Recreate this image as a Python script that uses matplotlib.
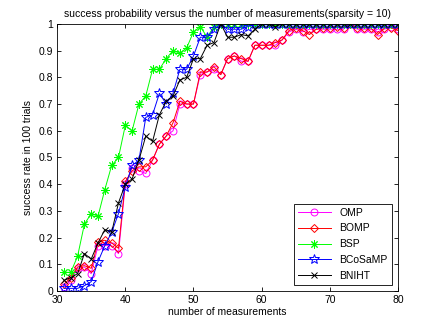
import numpy as np
import matplotlib
matplotlib.use('Agg')
import matplotlib.pyplot as plt

plt.rcParams['font.family'] = ['Liberation Sans', 'DejaVu Sans']

# numero de medidas
m = list(range(31, 81))

omp = [0.015, 0.04, 0.085, 0.09, 0.065, 0.17, 0.17, 0.17, 0.14, 0.40,
       0.46, 0.45, 0.44, 0.49, 0.55, 0.58, 0.60, 0.70, 0.70, 0.70,
       0.81, 0.82, 0.83, 0.81, 0.87, 0.88, 0.86, 0.86, 0.92, 0.92,
       0.92, 0.92, 0.94, 0.97, 0.98, 0.97, 0.98, 0.98, 0.98, 0.98,
       0.98, 0.98, 1.00, 0.98, 0.98, 0.98, 0.97, 0.98, 0.99, 0.98]
bomp = [0.025, 0.05, 0.09, 0.095, 0.085, 0.185, 0.19, 0.18, 0.16, 0.41,
        0.45, 0.465, 0.465, 0.49, 0.55, 0.58, 0.63, 0.71, 0.70, 0.70,
        0.82, 0.82, 0.84, 0.81, 0.87, 0.88, 0.87, 0.86, 0.92, 0.92,
        0.92, 0.93, 0.94, 0.975, 0.985, 0.975, 0.96, 0.98, 0.985, 0.985,
        0.99, 0.985, 1.00, 0.985, 0.985, 0.985, 0.96, 0.985, 0.985, 0.975]
bsp = [0.07, 0.07, 0.13, 0.25, 0.29, 0.28, 0.38, 0.47, 0.50, 0.62,
       0.60, 0.70, 0.73, 0.83, 0.83, 0.87, 0.90, 0.89, 0.91, 0.97,
       0.99, 0.95, 0.99, 1, 1, 1, 1, 1, 1, 1,
       1, 1, 1, 1, 1, 1, 1, 1, 1, 1,
       1, 1, 1, 1, 1, 1, 1, 1, 1, 1]
bcosamp = [0.01, 0.01, 0.01, 0.02, 0.035, 0.11, 0.17, 0.22, 0.29, 0.39,
           0.47, 0.49, 0.65, 0.66, 0.74, 0.70, 0.74, 0.83, 0.83, 0.88,
           0.95, 0.95, 0.98, 1.00, 0.98, 0.98, 0.98, 0.99, 1, 1,
           1, 1, 1, 1, 1, 1, 1, 1, 1, 1,
           1, 1, 1, 1, 1, 1, 1, 1, 1, 1]
bniht = [0.04, 0.05, 0.065, 0.14, 0.12, 0.18, 0.23, 0.22, 0.33, 0.40,
         0.42, 0.49, 0.58, 0.56, 0.66, 0.71, 0.73, 0.79, 0.80, 0.87,
         0.87, 0.92, 0.93, 1.00, 0.95, 0.95, 0.96, 0.955, 0.98, 1,
         1, 0.99, 1, 1, 1, 1, 1, 1, 1, 1,
         1, 1, 1, 1, 1, 1, 1, 1, 1, 1]

fig = plt.figure(figsize=(4.36, 3.27), dpi=100)
ax = fig.add_axes([0.131, 0.110, 0.782, 0.817])

lw = 0.7
ax.plot(m, omp, color='#ff00ff', marker='o', mfc='none', ms=5, lw=lw, mew=0.7, label='OMP')
ax.plot(m, bomp, color='#ff0000', marker='D', mfc='none', ms=4.5, lw=lw, mew=0.7, label='BOMP')
ax.plot(m, bsp, color='#00ff00', marker=(8, 2, 0), ms=6, lw=lw, mew=0.7, label='BSP')
ax.plot(m, bcosamp, color='#0000ff', marker='*', mfc='none', ms=7, lw=lw, mew=0.7, label='BCoSaMP')
ax.plot(m, bniht, color='#000000', marker='x', ms=4.5, lw=lw, mew=0.7, label='BNIHT')

ax.set_xlim(30, 80)
ax.set_ylim(0, 1)
ax.set_xticks(np.arange(30, 81, 10))
ax.set_yticks(np.arange(0, 1.01, 0.1))
ax.set_yticklabels(['0', '0.1', '0.2', '0.3', '0.4', '0.5', '0.6', '0.7', '0.8', '0.9', '1'])
ax.tick_params(direction='in', length=3, width=0.6, labelsize=7.5, top=True, right=True, pad=3)
for s in ax.spines.values():
    s.set_linewidth(0.6)

ax.set_xlabel('number of measurements', fontsize=7.5, labelpad=1)
ax.set_ylabel('success rate in 100 trials', fontsize=7.5, labelpad=4)
ax.set_title('success probability versus the number of measurements(sparsity = 10)', fontsize=7.5, pad=5)

leg = ax.legend(loc='lower right', fontsize=7.5, fancybox=False, edgecolor='black',
                framealpha=1, borderaxespad=0.6, handlelength=3.2, labelspacing=0.55)
leg.get_frame().set_linewidth(0.6)

fig.savefig('out.png', dpi=100)
